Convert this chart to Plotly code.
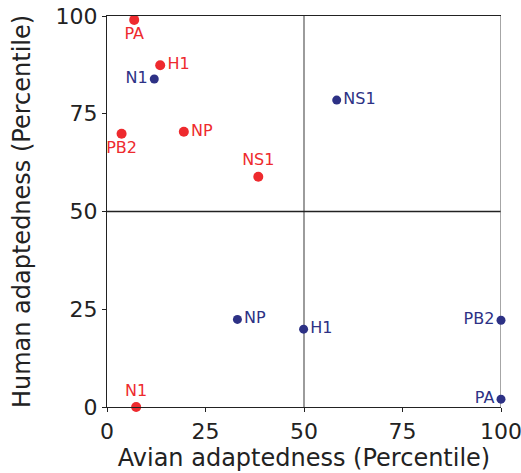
import plotly.graph_objects as go

# Red series (human-adapted positions)
red_labels = ["PA", "H1", "PB2", "NP", "NS1", "N1"]
red_x = [6.9, 13.5, 3.7, 19.5, 38.4, 7.4]
red_y = [99.0, 87.4, 69.9, 70.4, 58.9, 0.0]
red_pos = ["bottom center", "middle right", "bottom center", "middle right", "top center", "top center"]

# Blue series
blue_labels = ["N1", "NS1", "NP", "H1", "PB2", "PA"]
blue_x = [12.0, 58.3, 33.1, 49.9, 100.0, 100.0]
blue_y = [83.9, 78.5, 22.4, 19.9, 22.2, 2.0]
blue_pos = ["middle left", "middle right", "middle right", "middle right", "middle left", "middle left"]

ticks = [0, 25, 50, 75, 100]

RED = "#ee2a2e"
BLUE = "#2d3185"
FONT = "DejaVu Sans"

fig = go.Figure()
fig.add_trace(go.Scatter(
    x=red_x, y=red_y, mode="markers+text", text=red_labels, textposition=red_pos,
    marker=dict(color=RED, size=10), textfont=dict(color=RED, size=16, family=FONT),
    cliponaxis=False, showlegend=False))
fig.add_trace(go.Scatter(
    x=blue_x, y=blue_y, mode="markers+text", text=blue_labels, textposition=blue_pos,
    marker=dict(color=BLUE, size=9), textfont=dict(color=BLUE, size=16, family=FONT),
    cliponaxis=False, showlegend=False))

fig.add_shape(type="line", x0=50, x1=50, y0=0, y1=100, xref="x", yref="y",
              line=dict(color="#666666", width=1.3), layer="below")
fig.add_shape(type="line", x0=0, x1=100, y0=50, y1=50, xref="x", yref="y",
              line=dict(color="#222222", width=1.3), layer="below")
fig.add_shape(type="line", x0=100, x1=100, y0=0, y1=100, xref="x", yref="y",
              line=dict(color="#777777", width=1.3), layer="below")

axis_common = dict(
    range=[0, 100], tickvals=ticks, ticks="outside", ticklen=4, tickcolor="#222222",
    showgrid=False, zeroline=False, showline=True, linecolor="#222222", linewidth=1.3,
    tickfont=dict(size=22, family=FONT, color="#222222"), automargin=False,
    ticklabeloverflow="allow",
)

fig.update_xaxes(**axis_common, mirror=True,
                 title=dict(text="Avian adaptedness (Percentile)",
                            font=dict(size=24, family=FONT, color="#222222"), standoff=3))
fig.update_yaxes(**axis_common,
                 title=dict(text="Human adaptedness (Percentile)",
                            font=dict(size=24, family=FONT, color="#222222"), standoff=18))

fig.update_layout(
    width=521, height=473,
    margin=dict(l=107, r=20, t=16, b=66),
    plot_bgcolor="white", paper_bgcolor="white",
    font=dict(family=FONT),
)

fig.write_html("out.html")
